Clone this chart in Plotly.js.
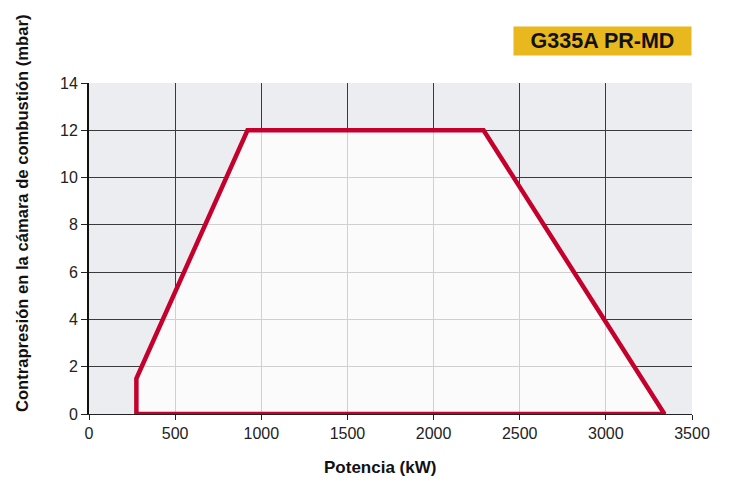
<!DOCTYPE html>
<html><head><meta charset="utf-8">
<script src="https://cdn.plot.ly/plotly-3.0.1.min.js"></script>
<style>html,body{margin:0;padding:0;background:#fff}#c{width:730px;height:482px}</style>
</head><body><div id="c"></div>
<script>
const potencia = [275, 275, 920, 2290, 3340, 275];
const presion = [0, 1.5, 12, 12, 0, 0];
const modelo = "G335A PR-MD";
const xTitle = "Potencia (kW)";
const yTitle = "Contrapresión en la cámara de combustión (mbar)";

const fam = "Liberation Sans, Arial, sans-serif";
Plotly.newPlot("c", [{
  type: "scatter", mode: "lines", x: potencia, y: presion,
  fill: "toself", fillcolor: "rgba(255,255,255,0.76)",
  line: {color: "#c4002c", width: 4.5}, hoverinfo: "skip"
}], {
  width: 730, height: 482,
  margin: {l: 89, r: 38, t: 83, b: 68},
  paper_bgcolor: "#fff", plot_bgcolor: "#ecedf0",
  font: {family: fam, size: 16, color: "#222"},
  showlegend: false,
  xaxis: {range: [0, 3500], dtick: 500, tick0: 0, showgrid: true, gridcolor: "#3a3a3a", gridwidth: 1,
    zeroline: false, showline: true, linecolor: "#222", linewidth: 1,
    ticks: "outside", ticklen: 5, tickcolor: "#222", tickfont: {size: 16, color: "#222"}},
  yaxis: {range: [0, 14], dtick: 2, tick0: 0, showgrid: true, gridcolor: "#3a3a3a", gridwidth: 1,
    zeroline: false, showline: true, linecolor: "#111", linewidth: 2,
    ticks: "outside", ticklen: 6, tickcolor: "#222", tickfont: {size: 16, color: "#222"}},
  annotations: [{
    text: "<b>" + modelo + "</b>", xref: "paper", yref: "paper", x: 1, y: 1.127,
    xanchor: "right", yanchor: "middle", showarrow: false,
    bgcolor: "#e8b81e", width: 173, height: 24, borderpad: 2,
    font: {size: 21.5, color: "#111", family: fam}
  }, {
    text: "<b>" + xTitle + "</b>", xref: "paper", yref: "paper",
    x: (380 - 89) / 603, y: -(467 - 414) / 331, xanchor: "center", yanchor: "middle",
    showarrow: false, font: {size: 17, color: "#111", family: fam}
  }, {
    text: "<b>" + yTitle + "</b>", xref: "paper", yref: "paper", textangle: -90,
    x: -(89 - 22) / 603, y: (414 - 214) / 331, xanchor: "center", yanchor: "middle",
    showarrow: false, font: {size: 16.6, color: "#111", family: fam}
  }]
}, {staticPlot: true});
</script></body></html>
